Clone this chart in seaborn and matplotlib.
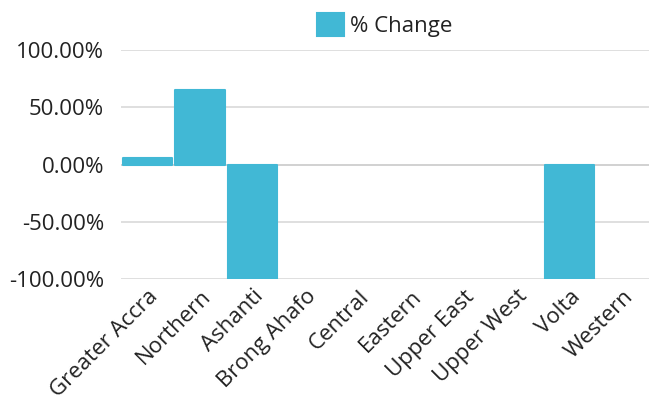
import numpy as np
import pandas as pd
import seaborn as sns
import matplotlib.pyplot as plt
from matplotlib.ticker import PercentFormatter

# 지역별 변화율 데이터
regions = ['Greater Accra', 'Northern', 'Ashanti', 'Brong Ahafo', 'Central',
           'Eastern', 'Upper East', 'Upper West', 'Volta', 'Western']
pct_change = [6.0, 65.5, -100.0, 0.0, 0.0, 0.0, 0.0, 0.0, -100.0, 0.0]

df = pd.DataFrame({'Region': regions, '% Change': pct_change})

sns.set_theme(style='white')
plt.rcParams['font.family'] = ['Open Sans', 'DejaVu Sans']
plt.rcParams['axes.unicode_minus'] = False
bar_color = '#41B8D5'
text_color = '#222222'

fig = plt.figure(figsize=(6.49, 4.11), dpi=100)
ax = fig.add_axes([0.186, 0.321, 0.814, 0.557])

sns.barplot(data=df, x='Region', y='% Change', color=bar_color, width=0.93,
            ax=ax, label='% Change', saturation=1)

# 막대 모서리 살짝 둥글게 (0인 막대는 안 그림)
for p in ax.patches:
    if abs(p.get_height()) < 1e-9:
        p.set_linewidth(0)
        continue
    p.set_edgecolor(bar_color)
    p.set_linewidth(1.5)
    p.set_joinstyle('round')

ax.set_ylim(-100, 100)
ax.set_yticks([-100, -50, 0, 50, 100])
ax.yaxis.set_major_formatter(PercentFormatter(decimals=2))
ax.set_xlim(-0.5, len(regions) - 0.5)

ax.grid(axis='y', color='#d9d9d9', linewidth=1.2)
ax.set_axisbelow(True)
ax.axhline(0, color='#a6a6a6', linewidth=1.2, zorder=0.5)
for s in ax.spines.values():
    s.set_visible(False)

ax.set_xlabel('')
ax.set_ylabel('')
ax.tick_params(axis='both', length=0, labelsize=16, labelcolor=text_color)
ax.tick_params(axis='y', pad=12)
ax.tick_params(axis='x', pad=5, labelsize=16)
plt.setp(ax.get_xticklabels(), rotation=45, ha='right', rotation_mode='anchor')

leg = ax.legend(loc='lower center', bbox_to_anchor=(0.5, 1.0), frameon=False,
                fontsize=16, handlelength=1.2, handleheight=1.2, handletextpad=0.3,
                labelcolor=text_color, borderaxespad=0.2)

fig.savefig('out.png', dpi=100)
